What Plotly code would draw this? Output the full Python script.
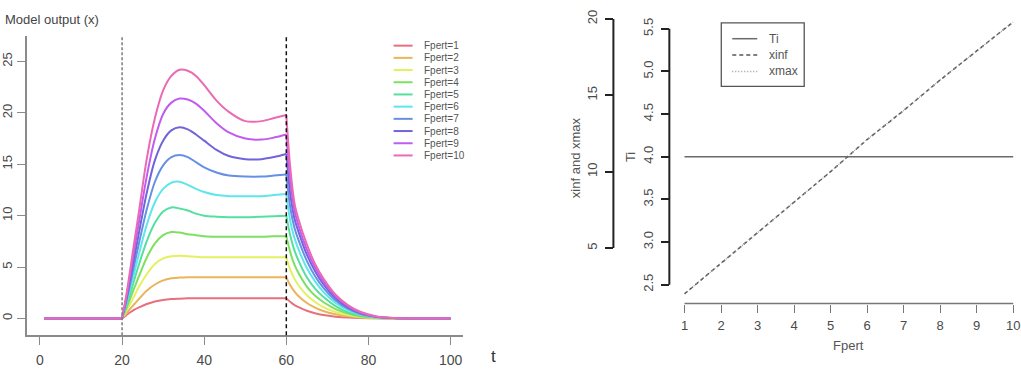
import plotly.graph_objects as go

W, H = 1021, 369

def px(x):
    return x / W

def py(y):
    return 1 - y / H

# ---------------- data ----------------
FPERT = [1, 2, 3, 4, 5, 6, 7, 8, 9, 10]
LABELS = ["Fpert=%d" % f for f in FPERT]
COLORS = ["#e8707e", "#eab45a", "#e4f060", "#7ee060", "#55e0a0",
          "#5ee6ea", "#6690e4", "#7064d8", "#c05cf0", "#ea6ab4"]

T_FLAT = [1, 20]
X_FLAT = [0, 0]

T_RISE = [20, 21, 22, 23, 24, 26, 28, 30, 32, 34, 36, 38, 40, 43, 46, 50, 54, 57, 60]
X_RISE = [
    [0, 0.3, 0.6, 0.85, 1.05, 1.4, 1.65, 1.8, 1.88, 1.92, 1.95, 1.95, 1.95, 1.95, 1.95, 1.95, 1.95, 1.95, 1.95],
    [0, 0.45, 0.95, 1.4, 1.85, 2.7, 3.3, 3.7, 3.9, 3.97, 4.0, 4.0, 4.0, 4.0, 4.0, 4.0, 4.0, 4.0, 4.0],
    [0, 0.7, 1.45, 2.2, 3.0, 4.3, 5.3, 5.85, 6.05, 6.1, 6.05, 6.0, 5.95, 5.95, 5.95, 5.95, 5.95, 5.95, 5.95],
    [0, 0.92, 1.95, 3.0, 4.0, 5.9, 7.3, 8.1, 8.4, 8.35, 8.2, 8.1, 8.0, 7.95, 7.95, 7.95, 7.95, 8.0, 8.0],
    [0, 1.15, 2.4, 3.8, 5.1, 7.5, 9.3, 10.4, 10.8, 10.7, 10.5, 10.2, 10.0, 9.9, 9.85, 9.85, 9.9, 9.95, 10.0],
    [0, 1.4, 2.9, 4.5, 6.1, 9.1, 11.3, 12.6, 13.2, 13.3, 13.0, 12.6, 12.3, 12.0, 11.9, 11.9, 11.9, 12.0, 12.1],
    [0, 1.6, 3.4, 5.3, 7.1, 10.6, 13.3, 14.9, 15.7, 15.9, 15.7, 15.2, 14.7, 14.2, 13.9, 13.8, 13.8, 13.9, 14.0],
    [0, 1.8, 3.9, 6.0, 8.1, 12.2, 15.4, 17.3, 18.3, 18.6, 18.4, 17.9, 17.3, 16.4, 15.8, 15.5, 15.5, 15.7, 16.0],
    [0, 2.0, 4.3, 6.8, 9.1, 13.8, 17.5, 19.9, 21.0, 21.4, 21.3, 20.9, 20.2, 19.0, 18.1, 17.5, 17.4, 17.6, 17.9],
    [0, 2.2, 4.8, 7.5, 10.1, 15.5, 19.5, 22.2, 23.6, 24.2, 24.1, 23.6, 22.7, 21.2, 20.1, 19.2, 19.2, 19.5, 19.8],
]

T_DECAY = [60, 61, 62, 63, 65, 67, 69, 72, 75, 78, 82, 86, 90, 100]
X_DECAY = [
    [1.95, 1.6, 1.3, 1.1, 0.75, 0.5, 0.33, 0.17, 0.08, 0.03, 0.01, 0, 0, 0],
    [4.0, 3.2, 2.6, 2.15, 1.5, 1.05, 0.72, 0.4, 0.2, 0.09, 0.02, 0, 0, 0],
    [5.95, 4.7, 3.85, 3.2, 2.25, 1.6, 1.1, 0.62, 0.32, 0.15, 0.04, 0.01, 0, 0],
    [8.0, 6.4, 5.2, 4.4, 3.1, 2.2, 1.6, 0.9, 0.47, 0.22, 0.06, 0.01, 0, 0],
    [10.0, 8.0, 6.6, 5.6, 4.0, 2.9, 2.1, 1.2, 0.6, 0.3, 0.08, 0.02, 0, 0],
    [12.1, 9.4, 7.8, 6.7, 4.9, 3.6, 2.6, 1.5, 0.8, 0.38, 0.11, 0.03, 0, 0],
    [14.0, 10.7, 8.8, 7.6, 5.6, 4.1, 3.0, 1.75, 0.95, 0.45, 0.13, 0.03, 0, 0],
    [16.0, 12.0, 9.7, 8.4, 6.2, 4.6, 3.35, 1.95, 1.08, 0.52, 0.15, 0.04, 0, 0],
    [17.9, 13.3, 10.5, 9.0, 6.7, 4.95, 3.6, 2.15, 1.2, 0.58, 0.17, 0.04, 0, 0],
    [19.8, 14.5, 11.2, 9.6, 7.2, 5.3, 3.9, 2.3, 1.3, 0.65, 0.2, 0.05, 0, 0],
]

VLINES_T = [20, 60]

# right panel
FP = [1, 2, 3, 4, 5, 6, 7, 8, 9, 10]
TI = [4.0, 4.0, 4.0, 4.0, 4.0, 4.0, 4.0, 4.0, 4.0, 4.0]
XINF = [2.0, 4.0, 5.95, 8.0, 10.0, 12.1, 14.0, 16.0, 17.9, 19.8]
XMAX = [2.0, 4.0, 5.95, 8.0, 10.0, 12.1, 14.0, 16.0, 17.9, 19.8]
R_LEG = ["Ti", "xinf", "xmax"]

FONT = "Liberation Sans, Arial, sans-serif"

fig = go.Figure()

# ---------------- left panel curves ----------------
for i in range(len(FPERT)):
    c = COLORS[i]
    fig.add_trace(go.Scatter(x=T_FLAT, y=X_FLAT, mode="lines",
                             line=dict(color=c, width=2), showlegend=False,
                             hoverinfo="skip", xaxis="x", yaxis="y"))
    fig.add_trace(go.Scatter(x=T_RISE, y=X_RISE[i], mode="lines", name=LABELS[i],
                             line=dict(color=c, width=2, shape="spline", smoothing=0.9),
                             showlegend=False, xaxis="x", yaxis="y"))
    fig.add_trace(go.Scatter(x=T_DECAY, y=X_DECAY[i], mode="lines",
                             line=dict(color=c, width=2, shape="spline", smoothing=0.9),
                             showlegend=False, hoverinfo="skip", xaxis="x", yaxis="y"))

# ---------------- right panel lines ----------------
fig.add_trace(go.Scatter(x=FP, y=TI, mode="lines", name="Ti",
                         line=dict(color="#6a6a6a", width=1.6), showlegend=False,
                         xaxis="x2", yaxis="y3"))
fig.add_trace(go.Scatter(x=FP, y=XINF, mode="lines", name="xinf",
                         line=dict(color="#555555", width=1.5, dash="4px,3px"), showlegend=False,
                         xaxis="x2", yaxis="y2"))
fig.add_trace(go.Scatter(x=FP, y=XMAX, mode="lines", name="xmax",
                         line=dict(color="#9a9a9a", width=1.2, dash="1px,2px"), showlegend=False,
                         xaxis="x2", yaxis="y2"))

# ---------------- axes ----------------
tickfont_l = dict(family=FONT, size=14, color="#4a4a4a")
tickfont_ly = dict(family=FONT, size=13, color="#4a4a4a")
tickfont_r = dict(family=FONT, size=13, color="#4a4a4a")

fig.update_layout(
    width=W, height=H,
    margin=dict(l=0, r=0, t=0, b=0),
    paper_bgcolor="white", plot_bgcolor="white",
    showlegend=False,
    xaxis=dict(domain=[px(26), px(462)], range=[-3.163, 102.92], anchor="y",
               showline=True, linecolor="#8a8a8a", linewidth=1.5,
               ticks="outside", ticklen=8, tickwidth=1.3, tickcolor="#8a8a8a",
               tickvals=[0, 20, 40, 60, 80, 100], tickfont=tickfont_l,
               ticklabelstandoff=3,
               showgrid=False, zeroline=False),
    yaxis=dict(domain=[py(335), py(33)], range=[-1.641, 27.51], anchor="x",
               showline=True, linecolor="#8a8a8a", linewidth=1.5,
               ticks="outside", ticklen=8, tickwidth=1.3, tickcolor="#8a8a8a",
               tickvals=[0, 5, 10, 15, 20, 25], tickangle=-90, tickfont=tickfont_ly,
               showgrid=False, zeroline=False),
    xaxis2=dict(domain=[px(671), 1.0], range=[0.64, 0.64 + (W - 671) / 36.56],
                anchor="free", position=py(303),
                showline=False, ticks="outside", ticklen=8, tickwidth=1.3, tickcolor="#777777",
                tickvals=FP, tickfont=tickfont_r, ticklabelstandoff=2,
                showgrid=False, zeroline=False),
    yaxis2=dict(domain=[py(310), py(10)], range=[0.909, 20.39],
                anchor="free", position=px(613), side="left",
                showline=False, ticks="outside", ticklen=8, tickwidth=1.6, tickcolor="#222222",
                tickvals=[5, 10, 15, 20], tickangle=-90, tickfont=tickfont_r,
                ticklabelstandoff=3,
                showgrid=False, zeroline=False),
    yaxis3=dict(range=[2.1977, 5.686], overlaying="y2",
                anchor="free", position=px(669), side="left",
                showline=False, ticks="outside", ticklen=8, tickwidth=1.6, tickcolor="#222222",
                tickvals=[2.5, 3.0, 3.5, 4.0, 4.5, 5.0, 5.5],
                ticktext=["2.5", "3.0", "3.5", "4.0", "4.5", "5.0", "5.5"],
                ticklabelstandoff=3,
                tickangle=-90, tickfont=tickfont_r, showgrid=False, zeroline=False),
)

shapes = []
# vertical reference lines
shapes.append(dict(type="line", xref="x", yref="y domain", x0=VLINES_T[0], x1=VLINES_T[0],
                   y0=0, y1=1, line=dict(color="#7a7a7a", width=1.5, dash="3px,2px"), layer="above"))
shapes.append(dict(type="line", xref="x", yref="y domain", x0=VLINES_T[1], x1=VLINES_T[1],
                   y0=0, y1=1, line=dict(color="#111111", width=1.5, dash="4px,3px"), layer="above"))
# right axis spines (R style: span first to last tick)
shapes.append(dict(type="line", xref="paper", yref="y2", x0=px(613), x1=px(613), y0=5, y1=20,
                   line=dict(color="#222222", width=2)))
shapes.append(dict(type="line", xref="paper", yref="y3", x0=px(669), x1=px(669), y0=2.5, y1=5.5,
                   line=dict(color="#222222", width=2)))
shapes.append(dict(type="line", xref="x2", yref="paper", x0=1, x1=10, y0=py(303), y1=py(303),
                   line=dict(color="#777777", width=1.5)))

annotations = []
# left legend (custom)
for i in range(len(FPERT)):
    yc = 43 + i * 12.3
    shapes.append(dict(type="line", xref="paper", yref="paper", x0=px(393), x1=px(412),
                       y0=py(yc), y1=py(yc), line=dict(color=COLORS[i], width=2)))
    annotations.append(dict(xref="paper", yref="paper", x=px(421), y=py(yc), text=LABELS[i],
                            showarrow=False, xanchor="left", yanchor="middle",
                            font=dict(family=FONT, size=10, color="#555555")))

# right legend box
shapes.append(dict(type="rect", xref="paper", yref="paper", x0=px(721), x1=px(804),
                   y0=py(84), y1=py(20), line=dict(color="#555555", width=1.3)))
leg_dash = ["solid", "4px,3px", "1px,2px"]
leg_col = ["#6a6a6a", "#555555", "#9a9a9a"]
for k in range(3):
    yc = 36 + k * 16.5
    shapes.append(dict(type="line", xref="paper", yref="paper", x0=px(732), x1=px(757),
                       y0=py(yc), y1=py(yc), line=dict(color=leg_col[k], width=1.5, dash=leg_dash[k])))
    annotations.append(dict(xref="paper", yref="paper", x=px(767), y=py(yc), text=R_LEG[k],
                            showarrow=False, xanchor="left", yanchor="middle",
                            font=dict(family=FONT, size=12, color="#555555")))

# titles
annotations.append(dict(xref="paper", yref="paper", x=px(2), y=py(17), text="Model output (x)",
                        showarrow=False, xanchor="left", yanchor="middle",
                        font=dict(family=FONT, size=13, color="#444444")))
annotations.append(dict(xref="paper", yref="paper", x=px(493), y=py(356), text="t",
                        showarrow=False, xanchor="center", yanchor="middle",
                        font=dict(family=FONT, size=17, color="#333333")))
annotations.append(dict(xref="paper", yref="paper", x=px(575), y=py(156), text="xinf and xmax",
                        showarrow=False, xanchor="center", yanchor="middle", textangle=-90,
                        font=dict(family=FONT, size=13, color="#555555")))
annotations.append(dict(xref="paper", yref="paper", x=px(630), y=py(155), text="Ti",
                        showarrow=False, xanchor="center", yanchor="middle", textangle=-90,
                        font=dict(family=FONT, size=13, color="#555555")))
annotations.append(dict(xref="paper", yref="paper", x=px(848), y=py(345), text="Fpert",
                        showarrow=False, xanchor="center", yanchor="middle",
                        font=dict(family=FONT, size=13, color="#555555")))

fig.update_layout(shapes=shapes, annotations=annotations)

fig.write_html("out.html")
